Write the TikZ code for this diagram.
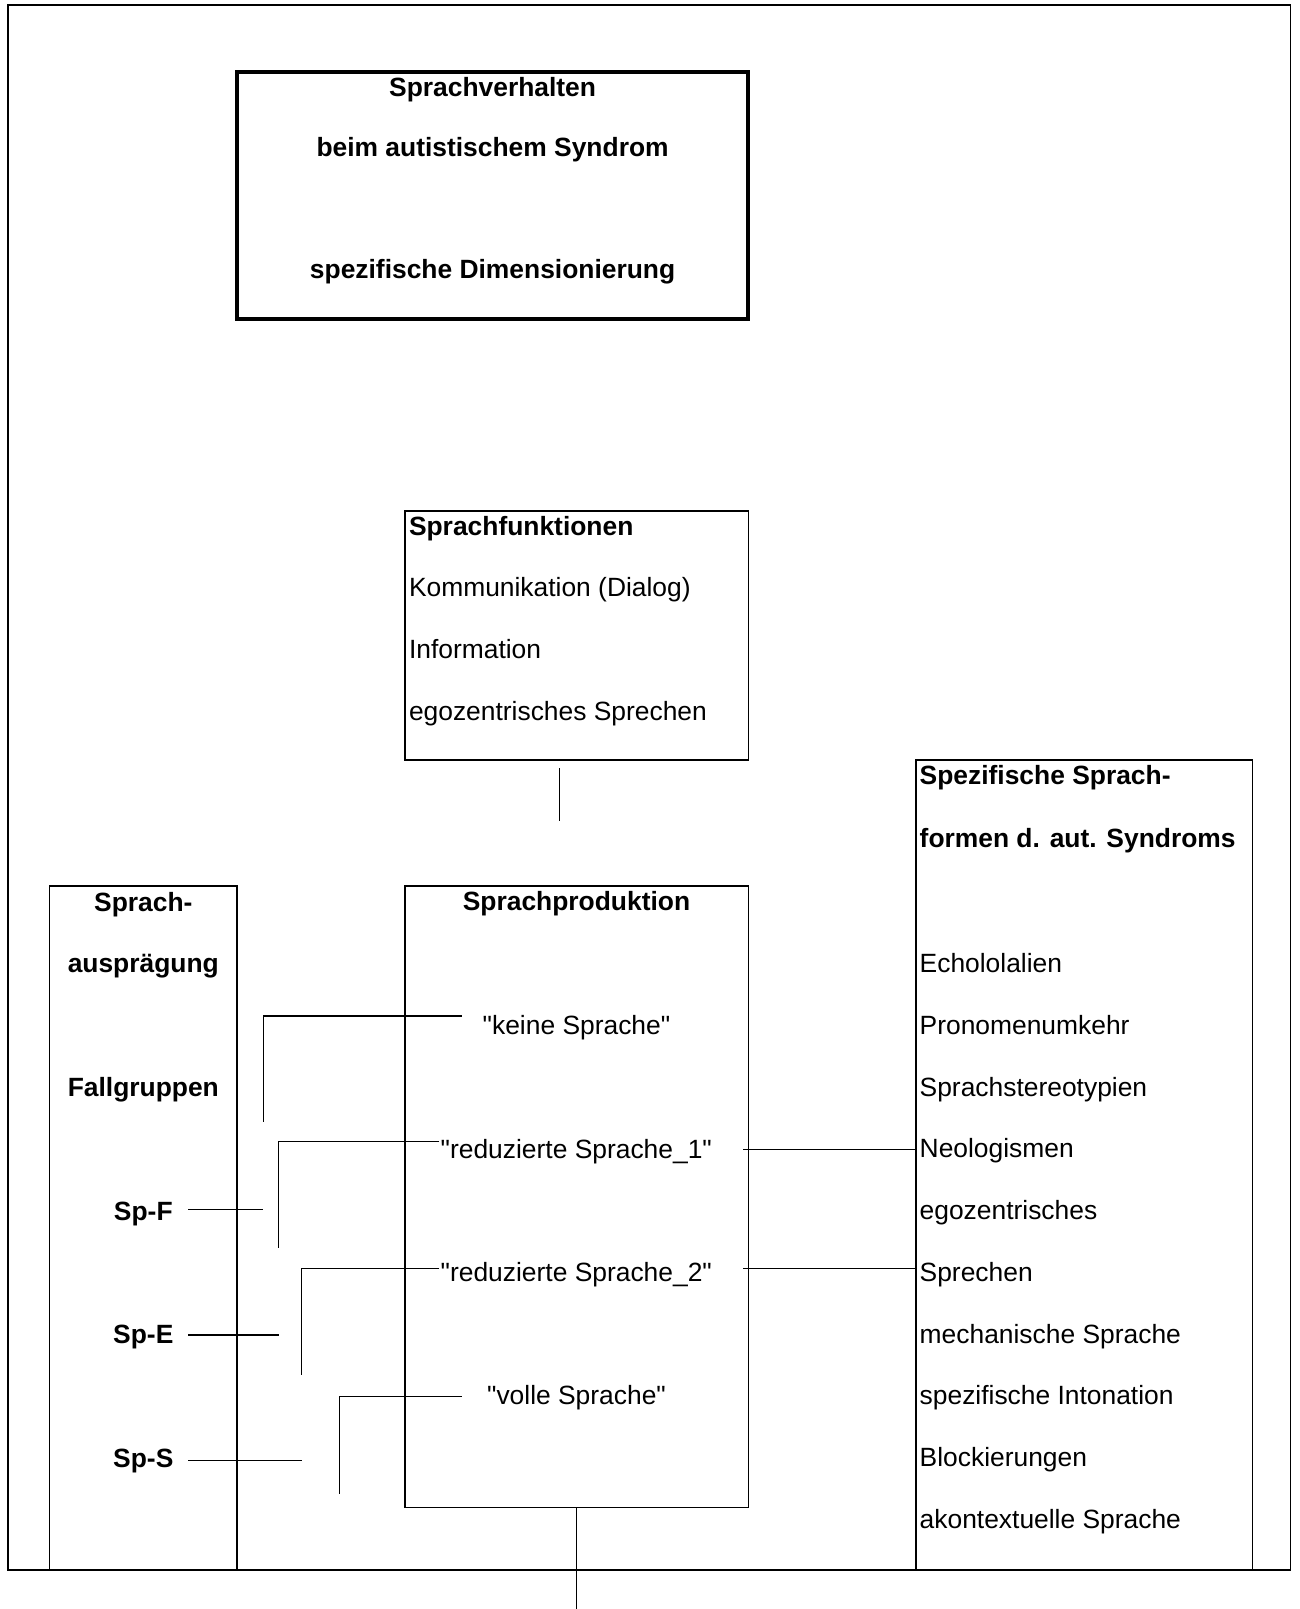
\documentclass[tikz,border=0pt]{standalone}
\usepackage{fontspec}
\setmainfont{Liberation Sans}[Ligatures=TeXOff]
\begin{document}
\begin{tikzpicture}[x=1pt,y=-1pt,
  every node/.style={inner sep=0pt, outer sep=0pt},
  rm/.style={font=\fontsize{26.4}{30}\selectfont},
  bf/.style={font=\fontsize{26.4}{30}\selectfont\bfseries},
  lt/.style={anchor=base west},
  ct/.style={anchor=base},
  boxn/.style={draw, line width=1.6pt, anchor=north west, rectangle},
  conn/.style={line width=1.5pt}
]
\useasboundingbox (0,0) rectangle (1299,1609);
% outer frame
\node[boxn, line width=1.8pt, minimum width=1282.5pt, minimum height=1565pt] (outer) at (8,5) {};
% title box
\node[boxn, line width=4pt, minimum width=511pt, minimum height=247.3pt] (title) at (237,72) {};
\node[bf, ct] (ti1) at (492.6,96) {Sprachverhalten};
\node[bf, ct] (ti2) at (492.6,156.7) {beim autistischem Syndrom};
\node[bf, ct] (ti3) at (492.6,278.3) {spezifische Dimensionierung};
% Sprachfunktionen
\node[boxn, minimum width=343.3pt, minimum height=249.3pt] (func) at (405,510.7) {};
\node[bf, lt] (f0) at (409,535) {Sprachfunktionen};
\node[rm, lt] (f1) at (409,596.7) {Kommunikation (Dialog)};
\node[rm, lt] (f2) at (409,658.3) {Information};
\node[rm, lt] (f3) at (409,720.7) {egozentrisches Sprechen};
\coordinate (va) at (559.3,768.3);
\coordinate (vb) at (559.3,820.7);
\draw[conn] (va) -- (vb);
% Spezifische Sprachformen
\node[boxn, minimum width=336.5pt, minimum height=810pt] (spez) at (916,760) {};
\node[bf, lt] (s0) at (919.7,784) {Spezifische Sprach-};
\node[bf, lt] (s00) at (919.7,847) {formen d. aut. Syndroms};
\node[rm, lt] (s1) at (919.7,972.5) {Echololalien};
\node[rm, lt] (s2) at (919.7,1034.2) {Pronomenumkehr};
\node[rm, lt] (s3) at (919.7,1096) {Sprachstereotypien};
\node[rm, lt] (s4) at (919.7,1157.7) {Neologismen};
\node[rm, lt] (s5) at (919.7,1219.5) {egozentrisches};
\node[rm, lt] (s6) at (919.7,1281.2) {Sprechen};
\node[rm, lt] (s7) at (919.7,1343) {mechanische Sprache};
\node[rm, lt] (s8) at (919.7,1404.7) {spezifische Intonation};
\node[rm, lt] (s9) at (919.7,1466.5) {Blockierungen};
\node[rm, lt] (s10) at (919.7,1528.5) {akontextuelle Sprache};
% Sprachauspraegung
\node[boxn, minimum width=187.7pt, minimum height=684pt] (left) at (49.3,886) {};
\node[bf, ct] (l0) at (143.3,911.2) {Sprach-};
\node[bf, ct] (l1) at (143.3,972.8) {ausprägung};
\node[bf, ct] (l2) at (143.3,1096.5) {Fallgruppen};
\node[bf, ct] (spf) at (143.3,1220) {Sp-F};
\node[bf, ct] (spe) at (143.3,1343.7) {Sp-E};
\node[bf, ct] (sps) at (143.3,1467.3) {Sp-S};
% Sprachproduktion
\node[boxn, minimum width=343.3pt, minimum height=621.5pt] (prod) at (405,886) {};
\node[bf, ct] (p0) at (576.5,910.7) {Sprachproduktion};
\node[rm, ct] (p1) at (576.5,1034.5) {"keine Sprache"};
\node[rm, ct] (p2) at (576.3,1158) {"reduzierte Sprache\_1"};
\node[rm, ct] (p3) at (576.3,1281.2) {"reduzierte Sprache\_2"};
\node[rm, ct] (p4) at (576.5,1404.8) {"volle Sprache"};
% connectors to the left
\coordinate (kA) at (461.7,1016);   \coordinate (kB) at (263.3,1122.3);
\coordinate (rA) at (439.3,1141.7); \coordinate (rB) at (278.7,1248.3);
\coordinate (uA) at (439.3,1268.3); \coordinate (uB) at (301.7,1375);
\coordinate (wA) at (461.7,1396.7); \coordinate (wB) at (339.3,1493.5);
\draw[conn] (kA) -| (kB);
\draw[conn] (rA) -| (rB);
\draw[conn] (uA) -| (uB);
\draw[conn] (wA) -| (wB);
\coordinate (fA) at (188.3,1209.3); \coordinate (fB) at (263.3,1209.3);
\coordinate (eA) at (188.3,1335);   \coordinate (eB) at (278.7,1335);
\coordinate (gA) at (188.3,1460.5); \coordinate (gB) at (301.7,1460.5);
\draw[conn] (fA) -- (fB);
\draw[conn] (eA) -- (eB);
\draw[conn] (gA) -- (gB);
% connectors to the right
\coordinate (q1) at (743.3,1149.3);
\coordinate (q2) at (743.3,1268.3);
\draw[conn] (q1) -- (q1 -| spez.west);
\draw[conn] (q2) -- (q2 -| spez.west);
% bottom line
\coordinate (bot) at (0,1609);
\draw[conn] (prod.south) -- (prod.south |- bot);
\end{tikzpicture}
\end{document}
